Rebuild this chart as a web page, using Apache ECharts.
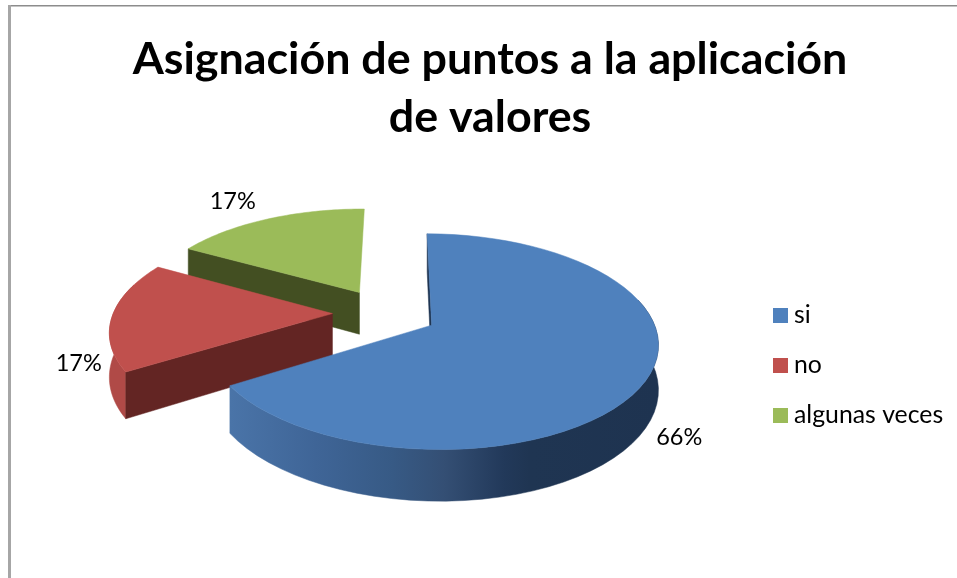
<!DOCTYPE html>
<html>
<head>
<meta charset="utf-8">
<style>html,body{margin:0;padding:0;background:#fff}#c{width:957px;height:578px}</style>
<script src="https://cdn.jsdelivr.net/npm/echarts@6/dist/echarts.min.js"></script>
</head>
<body>
<div id="c"></div>
<script>
var chartTitle = 'Asignación de puntos a la aplicación\nde valores';
var categories = ['si', 'no', 'algunas veces'];
var values = [66, 17, 17];
var valueLabels = ['66%', '17%', '17%'];

var topColors = ['#4f81bd', '#c0504d', '#9bbb59'];
var faceColors = ['#1f3552', '#632523', '#434f22'];
var FONT = 'Lato, "Open Sans", sans-serif';
var cam = {cx: 385, cy: 313, rx: 219, ry: 101.7, p: 0.15, depth: 43, explode: 0.24, start: 0.5};
var labelNudge = [[5, 1], [-2, 4], [-20, -4]];

var total = values.reduce(function (s, v) { return s + v; }, 0);
function project(a, b, down) {
  var s = 1 / (1 - cam.p * b);
  return [cam.cx + cam.rx * a * s, cam.cy + cam.ry * b * s + (down ? cam.depth * s : 0)];
}
function rad(d) { return d * Math.PI / 180; }

function sliceShapes(index, value) {
  var before = 0;
  for (var i = 0; i < index; i++) before += values[i];
  var a0 = cam.start + before / total * 360;
  var a1 = a0 + value / total * 360;
  var mid = (a0 + a1) / 2;
  var ox = Math.sin(rad(mid)) * cam.explode;
  var oy = -Math.cos(rad(mid)) * cam.explode;
  var rim = [], rimLow = [], wallTop = [], wallLow = [];
  for (var t = 0; t <= 60; t++) {
    var ang = rad(a0 + (a1 - a0) * t / 60);
    var x = ox + Math.sin(ang), y = oy - Math.cos(ang);
    rim.push(project(x, y, false));
    rimLow.push(project(x, y, true));
    // only the part of the outer wall that turns towards the viewer
    if (Math.cos(ang) < 0.3) {
      wallTop.push(project(x, y, false));
      wallLow.push(project(x, y, true));
    }
  }
  var tip = project(ox, oy, false), tipLow = project(ox, oy, true);
  var children = [];
  function poly(points, fill) {
    children.push({type: 'polygon', shape: {points: points}, style: {fill: fill, stroke: fill, lineWidth: 0.5}});
  }
  var startFace = [tip, rim[0], rimLow[0], tipLow];
  var endFace = [tip, rim[60], rimLow[60], tipLow];
  var startSeen = Math.sin(rad(a0)) < 0;
  var endSeen = Math.sin(rad(a1)) > 0.05;
  // radial face turned away from the viewer goes first
  if (!startSeen) poly(startFace, faceColors[index]);
  // outer wall
  var wallFill = index === 0 ? {
    type: 'linear', x: 0, y: 0, x2: 1, y2: 0,
    colorStops: [
      {offset: 0, color: '#4a74a8'}, {offset: 0.2, color: '#3f6597'},
      {offset: 0.38, color: '#375a85'}, {offset: 0.5, color: '#344f74'},
      {offset: 0.64, color: '#22395a'}, {offset: 0.7, color: '#1f3552'},
      {offset: 1, color: '#1e3350'}
    ]
  } : index === 1 ? '#b04a47' : '#7f9a49';
  if (wallTop.length > 1) poly(wallTop.concat(wallLow.slice().reverse()), wallFill);
  if (startSeen) poly(startFace, faceColors[index]);
  if (endSeen) poly(endFace, faceColors[index]);
  // top
  poly([tip].concat(rim), topColors[index]);
  // label
  var rho = 1.03;
  var lx = ox + Math.sin(rad(mid)) * rho, ly = oy - Math.cos(rad(mid)) * rho;
  var front = Math.cos(rad(mid)) < 0.2;
  var lp = project(lx, ly, front);
  children.push({
    type: 'text', z2: 10,
    style: {
      text: valueLabels[index],
      x: lp[0] + Math.sin(rad(mid)) * 25 + labelNudge[index][0],
      y: lp[1] - Math.cos(rad(mid)) * 13 + labelNudge[index][1],
      align: 'center', verticalAlign: 'middle',
      font: '23.5px ' + FONT, fill: '#000'
    }
  });
  return children;
}

var series = categories.map(function (name, i) {
  return {
    name: name,
    type: 'custom',
    coordinateSystem: 'none',
    silent: true,
    animation: false,
    z: 10 - (i === 0 ? 0 : i + 3),
    itemStyle: {color: topColors[i]},
    data: [[values[i]]],
    renderItem: function (params, api) {
      return {type: 'group', children: sliceShapes(i, api.value(0))};
    }
  };
});

var chart = echarts.init(document.getElementById('c'), null, {renderer: 'canvas'});
chart.setOption({
  animation: false,
  backgroundColor: '#fff',
  color: topColors,
  title: {
    text: chartTitle,
    left: 485, top: 26, textAlign: 'center',
    textStyle: {fontFamily: FONT, fontWeight: 'bold', fontSize: 44.8, lineHeight: 58, color: '#000'}
  },
  legend: {
    orient: 'vertical', left: 768, top: 298,
    icon: 'rect', itemWidth: 15, itemHeight: 15, itemGap: 25, itemStyle: {borderWidth: 0},
    selectedMode: false,
    data: categories,
    textStyle: {fontFamily: FONT, fontSize: 24.8, lineHeight: 24, color: '#000', padding: [0, 0, 0, 1]}
  },
  graphic: [
    {type: 'rect', shape: {x: 8, y: 5, width: 949, height: 1.5}, style: {fill: '#8c8c8c'}, silent: true},
    {type: 'rect', shape: {x: 8, y: 5, width: 3, height: 573}, style: {fill: '#a6a6a6'}, silent: true}
  ],
  series: series
});
</script>
</body>
</html>
